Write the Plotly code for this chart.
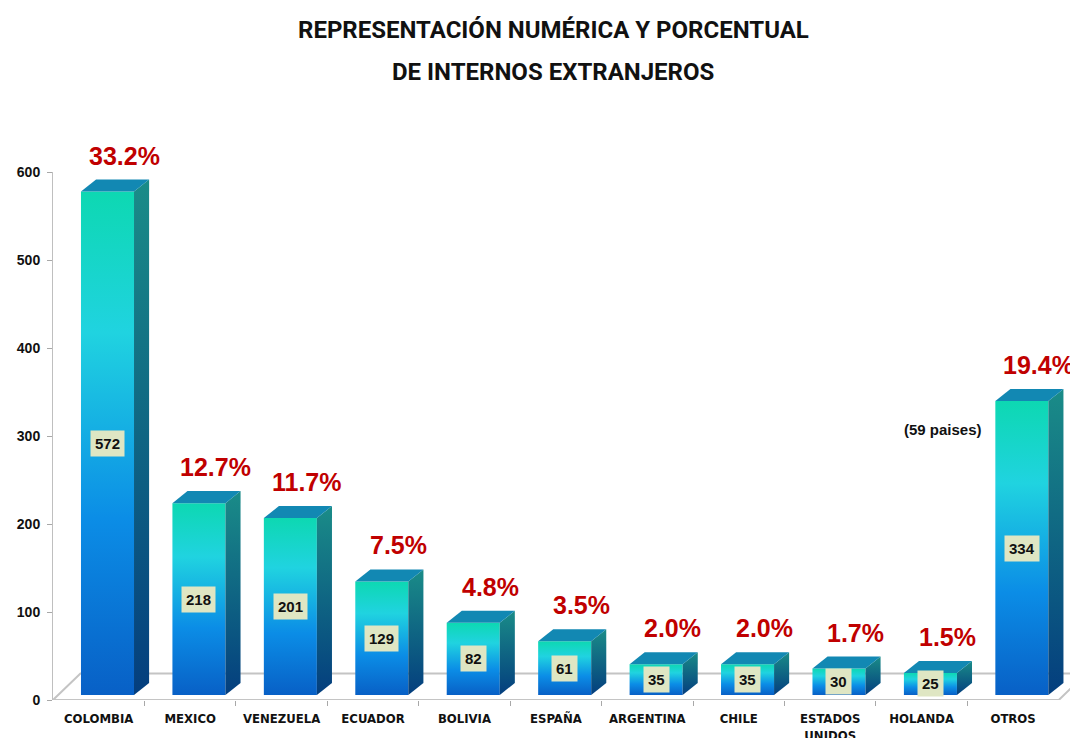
import plotly.graph_objects as go

# ---- data ----
categories = ["COLOMBIA", "MEXICO", "VENEZUELA", "ECUADOR", "BOLIVIA", "ESPAÑA",
              "ARGENTINA", "CHILE", "ESTADOS<br>UNIDOS", "HOLANDA", "OTROS"]
counts = [572, 218, 201, 129, 82, 61, 35, 35, 30, 25, 334]
percents = ["33.2%", "12.7%", "11.7%", "7.5%", "4.8%", "3.5%", "2.0%", "2.0%", "1.7%", "1.5%", "19.4%"]
y_ticks = [0, 100, 200, 300, 400, 500, 600]
title_lines = ["REPRESENTACIÓN NUMÉRICA Y PORCENTUAL", "DE INTERNOS EXTRANJEROS"]
note_text = "(59 paises)"
note_index = 10

# ---- 3D look parameters (axis units) ----
base = 5.7        # bar front bottom sits slightly above floor front edge
half_w = 0.29     # half width of front face
shift = 0.096     # front face centre offset from category
dx, dy = 0.165, 13.7   # bar depth
fdx, fdy = 0.30, 30.0  # floor depth

front_scale = [[0, "#0860c6"], [0.35, "#0b8de6"], [0.72, "#20d3e0"], [1, "#0dd8b2"]]
side_scale = [[0, "#043e7e"], [1, "#1a8c88"]]
top_color = "#1288b3"

# page body has an 8px margin: figure is sized/placed to compensate
W, H = 1070, 730
ML, MR, MT, MB = 45, 0, 164, 38
plot_w, plot_h = W - ML - MR, H - MT - MB

fig = go.Figure()

# floor lines
xmax = 10.71
floor_x = [-0.5, 10.5, 10.5 + fdx, None, -0.5, -0.5 + fdx, xmax]
floor_y = [0, 0, fdy, None, 0, fdy, fdy]
fig.add_trace(go.Scatter(x=floor_x, y=floor_y, mode="lines",
                         line=dict(color="#c4c4c4", width=2),
                         hoverinfo="skip", showlegend=False))

for i, v in enumerate(counts):
    x0 = i + shift - half_w
    x1 = i + shift + half_w
    y0 = base
    y1 = base + v
    # front face
    fig.add_trace(go.Scatter(
        x=[x0, x1, x1, x0, x0], y=[y0, y0, y1, y1, y0],
        mode="lines", fill="toself", line=dict(width=0),
        fillgradient=dict(type="vertical", colorscale=front_scale),
        hoverinfo="skip", showlegend=False))
    # side face
    fig.add_trace(go.Scatter(
        x=[x1, x1 + dx, x1 + dx, x1, x1], y=[y0, y0 + dy, y1 + dy, y1, y0],
        mode="lines", fill="toself", line=dict(width=0),
        fillgradient=dict(type="vertical", colorscale=side_scale),
        hoverinfo="skip", showlegend=False))
    # top face
    fig.add_trace(go.Scatter(
        x=[x0, x1, x1 + dx, x0 + dx, x0], y=[y1, y1, y1 + dy, y1 + dy, y1],
        mode="lines", fill="toself", line=dict(width=0), fillcolor=top_color,
        hoverinfo="skip", showlegend=False))

annotations = []
for i, (v, p) in enumerate(zip(counts, percents)):
    annotations.append(dict(
        x=i + shift, y=base + v / 2, xref="x", yref="y", text=f"<b>{v}</b>",
        showarrow=False, bgcolor="#dfe6c3", borderpad=4,
        font=dict(family="Liberation Sans, Arial", size=15, color="#111111")))
    annotations.append(dict(
        x=i + 0.28, y=base + v + dy, xref="x", yref="y", text=f"<b>{p}</b>",
        showarrow=False, yanchor="middle", yshift=24,
        font=dict(family="Liberation Sans, Arial", size=25, color="#c00000")))

annotations.append(dict(
    x=note_index - 0.77, y=307, xref="x", yref="y", text=f"<b>{note_text}</b>",
    showarrow=False, font=dict(family="Liberation Sans, Arial", size=15, color="#111111")))

for t, ypix in zip(title_lines, [30, 72]):
    annotations.append(dict(
        x=(553 - 8 - ML) / plot_w, y=(H - MB - (ypix - 8)) / plot_h,
        xref="paper", yref="paper", yanchor="middle",
        text=f"<b>{t}</b>", showarrow=False,
        font=dict(family="Roboto, Liberation Sans", size=24, color="#111111")))

fig.update_layout(
    width=W, height=H,
    margin=dict(l=ML, r=MR, t=MT, b=MB, autoexpand=False),
    paper_bgcolor="white", plot_bgcolor="white",
    showlegend=False,
    annotations=annotations,
)

fig.update_xaxes(
    range=[-0.5, xmax], showgrid=False, zeroline=False, showline=False,
    tickmode="array", tickvals=list(range(len(categories))), ticktext=categories,
    ticks="", ticklabelstandoff=9,
    tickfont=dict(family="Liberation Sans Narrow, DejaVu Sans Condensed, Liberation Sans",
                  size=13, color="#111111", weight="bold"),
    minor=dict(tickmode="array", tickvals=[i + 0.5 for i in range(len(categories) - 1)],
               ticks="outside", ticklen=5, tickcolor="#a8a8a8", tickwidth=1),
)
fig.update_yaxes(
    range=[0, 600], showgrid=False, zeroline=False,
    showline=True, linecolor="#bfbfbf", linewidth=1,
    tickmode="array", tickvals=y_ticks, ticks="outside", ticklen=5, tickcolor="#a8a8a8",
    ticklabelstandoff=4,
    tickfont=dict(family="Liberation Sans, Arial", size=14, color="#111111", weight="bold"),
)

fig.write_html("out.html")
